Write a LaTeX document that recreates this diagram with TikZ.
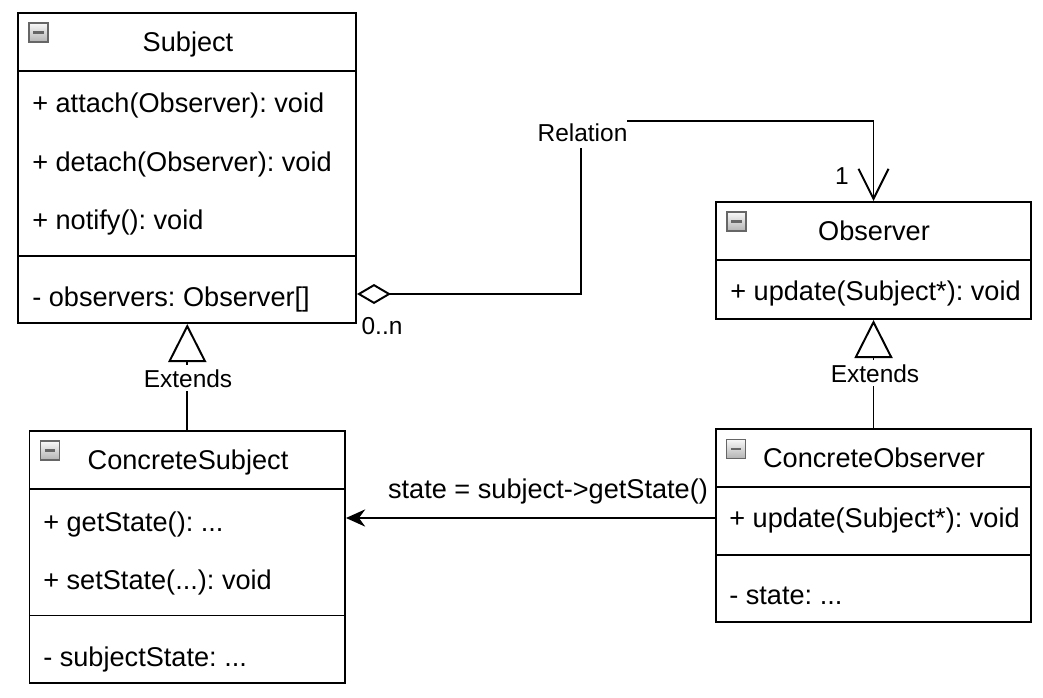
\documentclass[tikz,border=0pt]{standalone}
\usepackage{fontspec}
\setmainfont{Liberation Sans}
\usetikzlibrary{arrows.meta,positioning,fit}

\tikzset{
  umlbox/.style={draw, line width=1.4pt, inner sep=0pt},
  divider/.style={line width=1.4pt},
  conn/.style={line width=1.4pt},
  member/.style={anchor=base west, inner sep=0pt, font=\fontsize{19.3}{22}\selectfont},
  title/.style={anchor=base, inner sep=0pt, font=\fontsize{19.3}{22}\selectfont},
  edgelabel/.style={anchor=base, fill=white, inner xsep=0pt, inner ysep=3pt, font=\fontsize{17.4}{20}\selectfont},
  multlabel/.style={anchor=base, inner sep=0pt, font=\fontsize{17.4}{20}\selectfont},
  collapse/.style={draw=gray!80!black, line width=1pt, top color=gray!5, bottom color=gray!60,
    minimum size=0.48cm, inner sep=0pt,
    path picture={\draw[line width=2pt] ([xshift=0.11cm]path picture bounding box.west) -- ([xshift=-0.11cm]path picture bounding box.east);}},
}

\begin{document}
\frenchspacing
\begin{tikzpicture}[x=0.025cm, y=-0.025cm]
\fill[white] (0,0) rectangle (1043,697);
\useasboundingbox (0,0) rectangle (1043,697);

% Subject class
\node[umlbox, fit={(18,13) (356,323)}] (subj) {};
\draw[divider] (18,71) -- (356,71);
\draw[divider] (18,256) -- (356,256);
\node[collapse] (subjicon) at (38.5,32.5) {};
\node[title] (subjname) at (188,51) {Subject};
\node[member] (attach) at (32,112) {+ attach(Observer): void};
\node[member] (detach) at (32,171) {+ detach(Observer): void};
\node[member] (notify) at (32,229) {+ notify(): void};
\node[member] (observers) at (32,306) {- observers: Observer[]};

% Observer class
\node[umlbox, fit={(716,202) (1031,319)}] (obs) {};
\draw[divider] (716,260) -- (1031,260);
\node[collapse] (obsicon) at (736.5,221.5) {};
\node[title] (obsname) at (874,240) {Observer};
\node[member] (obsupdate) at (730,300) {+ update(Subject*): void};

% ConcreteSubject class
\node[umlbox, fit={(29.5,431) (345,683)}] (csubj) {};
\draw[divider] (29.5,489) -- (345,489);
\draw[divider] (29.5,615.5) -- (345,615.5);
\node[collapse] (csubjicon) at (50,450.5) {};
\node[title] (csubjname) at (188,469) {ConcreteSubject};
\node[member] (getstate) at (43,531) {+ getState(): ...};
\node[member] (setstate) at (43,589) {+ setState(...): void};
\node[member] (subjstate) at (43,666) {- subjectState: ...};

% ConcreteObserver class
\node[umlbox, fit={(716,429) (1031,622)}] (cobs) {};
\draw[divider] (716,487) -- (1031,487);
\draw[divider] (716,555) -- (1031,555);
\node[collapse] (cobsicon) at (736,449) {};
\node[title] (cobsname) at (874,467.5) {ConcreteObserver};
\node[member] (cobsupdate) at (729,527.5) {+ update(Subject*): void};
\node[member] (cobsstate) at (729,604.5) {- state: ...};

% Inheritance
\draw[conn, -{Triangle[open, length=0.95cm, width=0.95cm]}] (csubj.north) -- (csubj.north |- subj.south);
\node[edgelabel] (ext1) at (188,387) {Extends};
\draw[conn, -{Triangle[open, length=0.95cm, width=0.95cm]}] (cobs.north) -- (cobs.north |- obs.south);
\node[edgelabel] (ext2) at (875,382) {Extends};

% Aggregation
\draw[conn, {Diamond[open, length=0.85cm, width=0.5cm]}-{Straight Barb[length=0.75cm, width=0.75cm]}]
  (subj.east |- 0,294) -| (581,121) -| (obs.north);
\node[edgelabel, inner ysep=5pt] (rel) at (582.5,141) {Relation};
\node[multlabel] (mult1) at (842,184) {1};
\node[multlabel] (multn) at (382,334) {0..n};

% Message
\draw[conn, -{Stealth[length=0.48cm, width=0.43cm]}] (cobs.west |- 0,518) -- (csubj.east |- 0,518);
\node[title] (msg) at (548,498) {state = subject->getState()};
\end{tikzpicture}
\end{document}
